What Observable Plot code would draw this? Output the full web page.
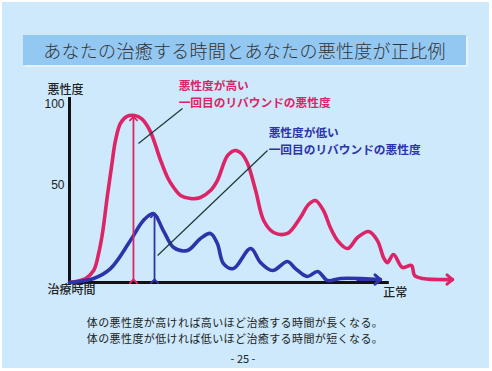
<!DOCTYPE html>
<html><head><meta charset="utf-8">
<script src="https://cdn.jsdelivr.net/npm/d3@7"></script>
<script src="https://cdn.jsdelivr.net/npm/@observablehq/plot@0.6"></script>
<style>
body{margin:0;background:#fff;width:492px;height:371px;overflow:hidden;position:relative;font-family:"Noto Sans CJK JP",sans-serif;}
#frame{position:absolute;left:2px;top:2px;width:487px;height:366px;background:#cde9fb;}
#title{position:absolute;left:23px;top:35px;width:443px;height:30px;background:#93c8f2;box-shadow:2px 2px 0 #e4f2fb;color:#333;font-size:18px;font-weight:300;line-height:30px;text-align:center;letter-spacing:0.3px;}
#chart{position:absolute;left:0;top:0;}
.note{position:absolute;left:0;width:470px;text-align:center;font-size:11px;line-height:16px;height:16px;letter-spacing:0.4px;color:#222;white-space:nowrap;}
#page{position:absolute;left:0;top:351px;width:486px;text-align:center;font-size:11px;line-height:14px;color:#222;}
</style></head>
<body>
<div id="frame"></div>
<div id="title">あなたの治癒する時間とあなたの悪性度が正比例</div>
<div id="chart"></div>
<div class="note" style="top:314px">体の悪性度が高ければ高いほど治癒する時間が長くなる。</div>
<div class="note" style="top:330px">体の悪性度が低ければ低いほど治癒する時間が短くなる。</div>
<div id="page">- 25 -</div>
<script>
// --- data ---
const BASE = -10;           // baseline of the time axis (value scale)
const X_END = 83.5;         // end of drawn time axis ("正常")
const Y_TOP = 104.3;        // top of drawn severity axis
const yTicks = [50, 100];

const redX = [0,4.2,6.3,7.6,8.6,9.9,11,12,13.3,15,17,18.8,21,23.8,25.6,27.2,29,31.6,34.2,36.8,38.6,41.3,43.3,44.9,46.5,48.6,50.7,53.3,56.9,60.3,62.4,64.2,66.3,68.1,70,72.6,75.2,78.1,80.4,82,83,84.6,86.9,89.3,90.1,92.2,100];
const redY = [-10,-7.5,-2.6,7.9,20.3,43.8,62,77.7,88.3,92.6,93.2,91.3,83.9,65.4,54.9,48.7,43.8,41.9,42.5,46.8,53,68.5,71.6,69.7,63.5,46.8,28.3,20.9,20.3,30.2,38.2,40.7,34.5,24,15.9,11,17.8,21.5,15.9,5.4,2.3,7.3,-0.7,0.5,-5.7,-7.5,-8.2];

const blueX = [0,6.3,10.7,15.9,19.3,21.9,24.5,27.2,30.8,34.2,36.8,38.6,40.2,42.8,47.3,49.9,53,56.9,59,62.1,64.8,67.4,70.8,81.2];
const blueY = [-10,-7.5,-1.4,15.9,28.3,32.6,22.1,11.6,9.8,17.2,20.3,14.1,1.7,-1.4,11,2.3,-2.6,3,-1.4,-6.3,-3.2,-8.8,-7.5,-8.2];

// first-rebound markers (time, severity)
const reboundTime = [16.7, 22.2];
const reboundPeak = [91.3, 31.4];

// annotation texts
const annoText = ["悪性度が高い\n一回目のリバウンドの悪性度", "悪性度が低い\n一回目のリバウンドの悪性度"];
const annoX = [28.5, 52.0];
const annoY = [107.1, 78.1];
// leader lines from text to rebound arrows
const leaderX1 = [29.5, 51.7], leaderY1 = [97.5, 71.6];
const leaderX2 = [18.0, 23.0], leaderY2 = [75.9, 6.7];

const colors = ["#dc2466", "#2d33a8"];

// --- build tables ---
const red = redX.map((x, i) => ({x, y: redY[i]}));
const blue = blueX.map((x, i) => ({x, y: blueY[i]}));
// arrowheads on the curve ends: a short flat arrow ending at the last point
const ends = [red, blue].map((s, i) => {
  const b = s[s.length - 1];
  return {x1: b.x - 6, y1: b.y, x2: b.x, y2: b.y, c: colors[i]};
});
const rebound = reboundTime.map((x, i) => ({x, y: reboundPeak[i], c: colors[i]}));
const anno = annoText.map((t, i) => ({t, x: annoX[i], y: annoY[i], c: colors[i]}));
const leaders = leaderX1.map((x1, i) => ({x1, y1: leaderY1[i], x2: leaderX2[i], y2: leaderY2[i]}));

const jp = "Noto Sans CJK JP";

const chart = Plot.plot({
  width: 492, height: 371,
  marginLeft: 69, marginRight: 40, marginTop: 104, marginBottom: 89,
  x: {domain: [0, 100], axis: null},
  y: {domain: [BASE, 100], axis: null},
  style: {background: "transparent", overflow: "visible"},
  marks: [
    Plot.axisY({ticks: yTicks, tickSize: 0, tickPadding: 5, label: null, fontSize: 12, fontFamily: "Liberation Sans Narrow, Liberation Sans, sans-serif", fill: "#222"}),
    Plot.ruleY([BASE], {x1: 0, x2: X_END, stroke: "#111", strokeWidth: 3}),
    Plot.ruleX([0], {y1: BASE, y2: Y_TOP, stroke: "#111", strokeWidth: 3}),
    Plot.line(red, {x: "x", y: "y", stroke: colors[0], strokeWidth: 3.6, curve: "catmull-rom"}),
    Plot.line(blue, {x: "x", y: "y", stroke: colors[1], strokeWidth: 3.6, curve: "catmull-rom"}),
    Plot.arrow(ends, {x1: "x1", y1: "y1", x2: "x2", y2: "y2", stroke: "c", strokeWidth: 3, headLength: 3.6, headAngle: 80}),
    Plot.link(rebound, {x1: "x", x2: "x", y1: BASE + 0.8, y2: "y", stroke: "c", strokeWidth: 1.8, markerStart: "arrow", markerEnd: "arrow"}),
    Plot.link(leaders, {x1: "x1", y1: "y1", x2: "x2", y2: "y2", stroke: "#1d3838", strokeWidth: 1.2}),
    Plot.text(anno, {x: "x", y: "y", text: "t", fill: "c", textAnchor: "start", lineAnchor: "middle", lineHeight: 1.453, fontSize: 11.7, fontWeight: "bold", fontFamily: jp, letterSpacing: "-0.2px"}),
    Plot.text(["悪性度"], {frameAnchor: "top-left", dx: -4, dy: -19, textAnchor: "middle", fontSize: 12, fontFamily: jp, fontWeight: 500, fill: "#222"}),
    Plot.text(["治療時間"], {frameAnchor: "bottom-left", dx: 2, dy: 11, textAnchor: "middle", fontSize: 12, fontFamily: jp, fontWeight: 500, fill: "#222"}),
    Plot.text(["正常"], {x: X_END, y: BASE, dx: 6, dy: 11, textAnchor: "middle", fontSize: 12, fontFamily: jp, fontWeight: 500, fill: "#222"})
  ]
});
document.getElementById("chart").appendChild(chart);
</script>
</body></html>
